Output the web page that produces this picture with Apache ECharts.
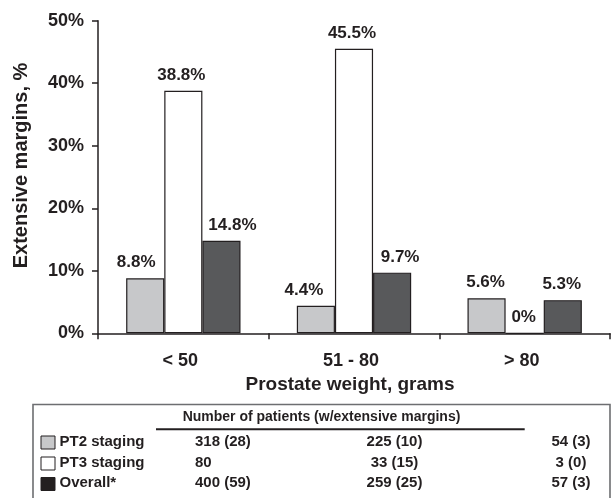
<!DOCTYPE html>
<html>
<head>
<meta charset="utf-8">
<script src="https://cdn.jsdelivr.net/npm/echarts@6/dist/echarts.min.js"></script>
<style>
  html, body { margin: 0; padding: 0; background: #fff; }
  #chart { width: 611px; height: 498px; }
</style>
</head>
<body>
<div id="chart"></div>
<script>
// ---- data ----
var categories = ['< 50', '51 - 80', '> 80'];
var seriesNames = ['PT2 staging', 'PT3 staging', 'Overall*'];
var pt2Values = [8.8, 4.4, 5.6];
var pt3Values = [38.8, 45.5, 0];
var overallValues = [14.8, 9.7, 5.3];
var yTicks = [0, 10, 20, 30, 40, 50];
var tableTitle = 'Number of patients (w/extensive margins)';
var pt2Counts = ['318 (28)', '225 (10)', '54 (3)'];
var pt3Counts = ['80', '33 (15)', '3 (0)'];
var overallCounts = ['400 (59)', '259 (25)', '57 (3)'];

// ---- styling ----
var ink = '#231f20';
var fills = ['#c7c8ca', '#ffffff', '#58595b'];
var swatchFills = ['#c7c8ca', '#ffffff', '#231f20'];
var labelShift = [[-9, -12, -1], [-2, -2, -1], [11, 8, -1]];
var FONT = '"Liberation Sans", Arial, Helvetica, sans-serif';

function mkData(vals, shifts) {
  return vals.map(function (v, i) {
    return { value: v, label: { offset: [shifts[i], 0] } };
  });
}

var allValues = [pt2Values, pt3Values, overallValues];
var series = allValues.map(function (vals, k) {
  return {
    name: seriesNames[k],
    type: 'bar',
    data: mkData(vals, labelShift[k]),
    barGap: '0%',
    barCategoryGap: '33%',
    itemStyle: { color: fills[k], borderColor: ink, borderWidth: 1.2 },
    label: {
      show: true,
      position: 'top',
      distance: 7,
      formatter: function (p) { return p.value + '%'; },
      color: ink,
      fontFamily: FONT,
      fontWeight: 'bold',
      fontSize: 17
    },
    animation: false
  };
});

// ---- table graphics ----
var graphics = [];
graphics.push({
  type: 'rect',
  shape: { x: 33, y: 404.5, width: 577, height: 120 },
  style: { fill: 'none', stroke: '#6d6e71', lineWidth: 1.6 }
});
graphics.push({
  type: 'text',
  style: { x: 321.5, y: 416.7, text: tableTitle, fill: ink, font: 'bold 14px ' + FONT, textAlign: 'center', textVerticalAlign: 'middle' }
});
graphics.push({
  type: 'line',
  shape: { x1: 156, y1: 429.3, x2: 524.7, y2: 429.3 },
  style: { stroke: ink, lineWidth: 2 }
});
var rowCounts = [pt2Counts, pt3Counts, overallCounts];
var rowY = [442, 463, 483.3];
var swY = [436, 457, 477.5];
var colX = [195, 394.5, 571];
var colAlign = ['left', 'center', 'center'];
for (var r = 0; r < 3; r++) {
  graphics.push({
    type: 'rect',
    shape: { x: 41, y: swY[r], width: 14, height: 13 },
    style: { fill: swatchFills[r], stroke: ink, lineWidth: 1 }
  });
  graphics.push({
    type: 'text',
    style: { x: 59.5, y: rowY[r], text: seriesNames[r], fill: ink, font: 'bold 15px ' + FONT, textAlign: 'left', textVerticalAlign: 'middle' }
  });
  for (var c = 0; c < 3; c++) {
    graphics.push({
      type: 'text',
      style: { x: colX[c], y: rowY[r], text: rowCounts[r][c], fill: ink, font: 'bold 15px ' + FONT, textAlign: colAlign[c], textVerticalAlign: 'middle' }
    });
  }
}

var chart = echarts.init(document.getElementById('chart'), null, { renderer: 'canvas' });
chart.setOption({
  animation: false,
  backgroundColor: '#ffffff',
  grid: { left: 98, right: 1, top: 20.7, bottom: 164.7, containLabel: false },
  xAxis: {
    type: 'category',
    data: categories,
    boundaryGap: true,
    name: 'Prostate weight, grams',
    nameLocation: 'middle',
    nameGap: 37,
    nameTextStyle: { color: ink, fontFamily: FONT, fontWeight: 'bold', fontSize: 19, padding: [0, 8, 0, 0] },
    axisLine: { show: true, lineStyle: { color: ink, width: 1.5 } },
    axisTick: { show: true, alignWithLabel: false, length: 6, lineStyle: { color: ink, width: 1.5 } },
    axisLabel: { color: ink, fontFamily: FONT, fontWeight: 'bold', fontSize: 18, margin: 19, padding: [0, 6, 0, 0] },
    splitLine: { show: false }
  },
  yAxis: {
    type: 'value',
    min: yTicks[0],
    max: yTicks[yTicks.length - 1],
    interval: yTicks[1] - yTicks[0],
    name: 'Extensive margins, %',
    nameLocation: 'middle',
    nameRotate: 90,
    nameGap: 67,
    nameTextStyle: { color: ink, fontFamily: FONT, fontWeight: 'bold', fontSize: 20, padding: [0, 0, 0, 23] },
    axisLine: { show: true, lineStyle: { color: ink, width: 1.5 } },
    axisTick: { show: true, length: 6, lineStyle: { color: ink, width: 1.5 } },
    axisLabel: { color: ink, fontFamily: FONT, fontWeight: 'bold', fontSize: 18, margin: 14, formatter: '{value}%' },
    splitLine: { show: false }
  },
  series: series,
  graphic: graphics
});
</script>
</body>
</html>
